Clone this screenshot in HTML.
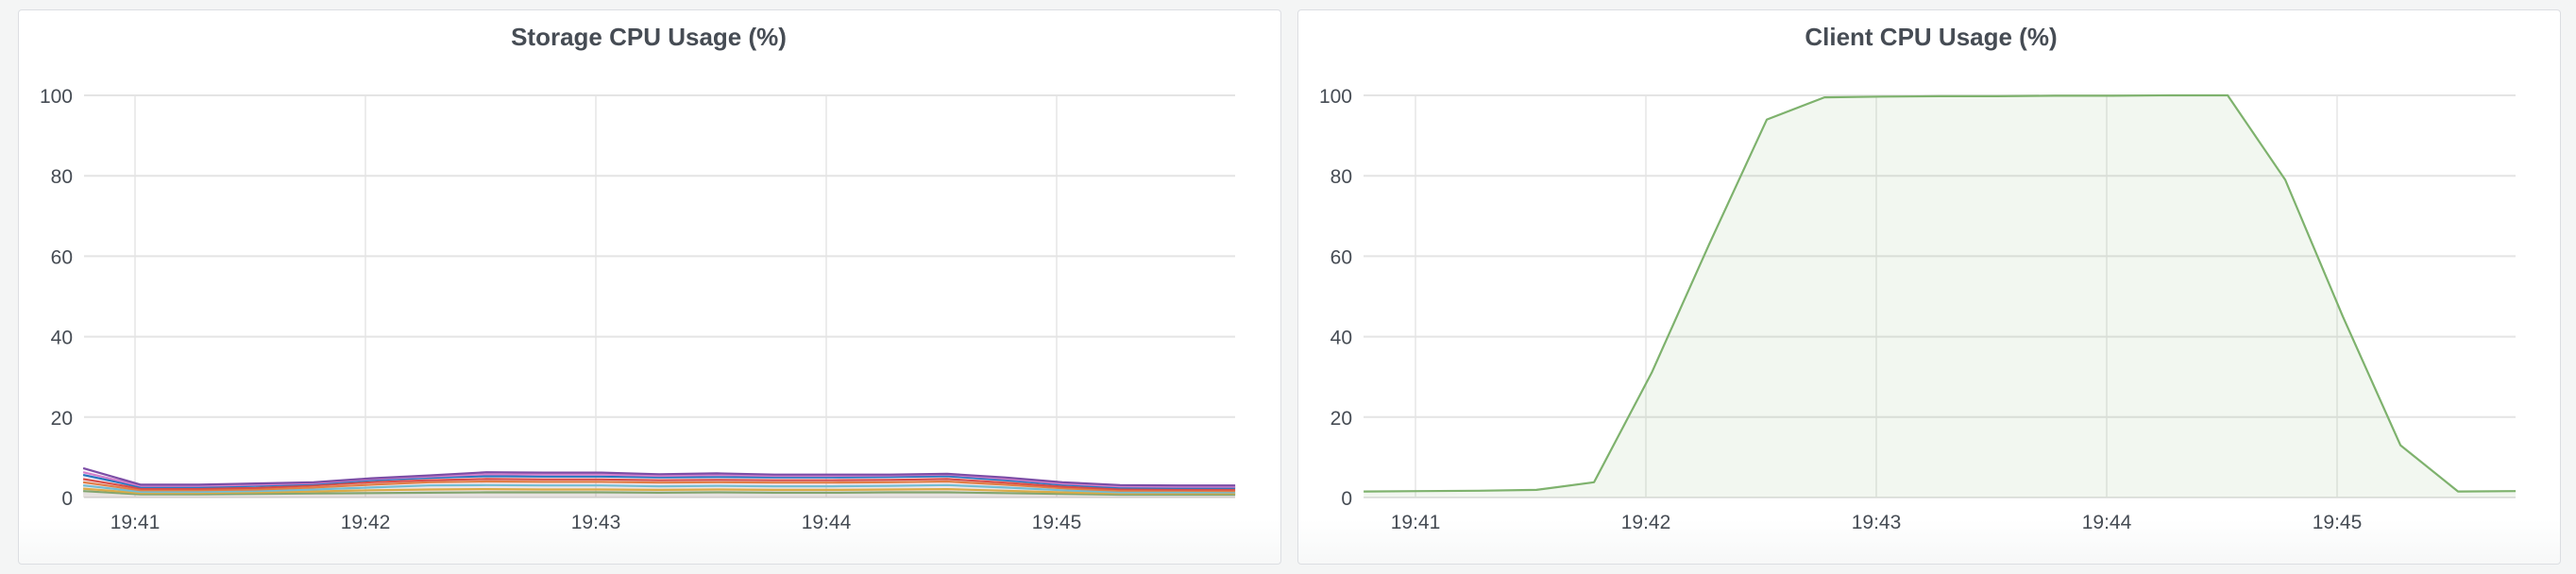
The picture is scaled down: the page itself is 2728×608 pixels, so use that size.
<!DOCTYPE html>
<html><head><meta charset="utf-8">
<style>
html,body{margin:0;padding:0;background:#f4f5f5;width:2728px;height:608px;overflow:hidden;font-family:"Liberation Sans",sans-serif;}
.panel{position:absolute;top:10px;height:588px;background:linear-gradient(#fff 0,#fff 92%,#f7f8f8 100%);border:1px solid #dcdee2;border-radius:4px;box-sizing:border-box;}
svg{position:absolute;left:0;top:0}
</style></head>
<body>
<div class="panel" style="left:19px;width:1338px"></div>
<div class="panel" style="left:1374px;width:1338px"></div>
<svg id="chart" width="2728" height="608"></svg>
<script>
const times = [46.5,61.5,76.5,91.5,106.5,121.5,136.5,151.5,166.5,181.5,196.5,211.5,226.5,241.5,256.5,271.5,286.5,301.5,316.5,331.5,346.5];
const tickLabels = ["19:41","19:42","19:43","19:44","19:45"];
const tickSeconds = [60,120,180,240,300];
const yTicks = [0,20,40,60,80,100];
const clientValues = [1.5,1.6,1.7,1.9,3.8,31,63,94,99.5,99.7,99.8,99.8,99.9,99.9,100,100,79,45,13,1.5,1.6];
const storGreen  = [1.6,0.8,0.8,0.9,1.0,1.1,1.2,1.3,1.3,1.3,1.2,1.3,1.2,1.2,1.3,1.3,1.1,0.9,0.7,0.7,0.7];
const storYellow = [2.2,1.1,1.1,1.3,1.5,1.8,2.0,2.1,2.0,2.0,1.9,2.0,1.9,1.9,2.0,2.1,1.7,1.3,1.0,1.0,1.0];
const storCyan   = [3.0,1.4,1.4,1.6,2.0,2.5,3.0,3.1,3.0,3.0,2.8,2.9,2.8,2.8,2.9,3.1,2.5,1.8,1.3,1.3,1.3];
const storOrange = [3.8,1.8,1.8,2.0,2.5,3.2,3.8,4.0,3.9,3.9,3.7,3.8,3.7,3.7,3.8,4.0,3.2,2.3,1.7,1.7,1.6];
const storRed    = [4.6,2.2,2.2,2.4,3.0,3.8,4.3,4.6,4.5,4.5,4.3,4.4,4.3,4.3,4.4,4.6,3.7,2.7,2.1,2.0,2.0];
const storBlue   = [5.6,2.6,2.6,2.9,3.4,4.3,4.9,5.3,5.2,5.2,5.0,5.1,5.0,5.0,5.1,5.3,4.3,3.2,2.5,2.4,2.4];
const storPink   = [6.3,2.9,2.9,3.2,3.6,4.6,5.2,5.8,5.7,5.7,5.4,5.6,5.4,5.4,5.5,5.7,4.7,3.5,2.8,2.7,2.7];
const storPurple = [7.3,3.2,3.2,3.5,3.8,4.8,5.5,6.3,6.2,6.2,5.8,6.0,5.7,5.7,5.7,5.9,5.0,3.8,3.1,3.0,3.0];
const storageSeries = [storGreen,storYellow,storCyan,storOrange,storRed,storBlue,storPink,storPurple];
const storageColors = ["#7EB26D","#EAB839","#6ED0E0","#EF843C","#E24D42","#1F78C1","#D683CE","#7C4DA6"];

const NS="http://www.w3.org/2000/svg";
const svg=document.getElementById('chart');
function mk(tag,attrs,parent){const e=document.createElementNS(NS,tag);for(const k in attrs)e.setAttribute(k,attrs[k]);(parent||svg).appendChild(e);return e;}

function drawPanel(cfg){
  const g=mk('g',{});
  
  
  const x=s=>cfg.x60+(s-60)*cfg.pps;
  const y=v=>cfg.y0-(v/100)*(cfg.y0-cfg.y100);
  const t=mk('text',{x:cfg.titleX,y:48,'text-anchor':'middle','font-size':26,'font-weight':'bold',fill:'#464c54'},g);
  t.textContent=cfg.title;
  
  
  tickSeconds.forEach((s,i)=>{
    const l=mk('line',{x1:x(s),x2:x(s),y1:cfg.y100,y2:cfg.y0,stroke:'#e6e6e6','stroke-width':1.5},g);
    
    
    const tx=mk('text',{x:x(s),y:560,'text-anchor':'middle','font-size':21,fill:'#464c54'},g);
    tx.textContent=tickLabels[i];
    
    
  });
  yTicks.forEach(v=>{
    const l=mk('line',{x1:cfg.left,x2:cfg.right,y1:y(v),y2:y(v),stroke:'#e4e4e4','stroke-width':2},g);
    
    
    const tx=mk('text',{x:cfg.left-12,y:y(v)+8,'text-anchor':'end','font-size':21,fill:'#464c54'},g);
    tx.textContent=String(v);
    
    
  });
  cfg.series.forEach((vals,si)=>{
    const pts=vals.map((v,i)=>x(times[i]).toFixed(1)+','+y(v).toFixed(1));
    const area=mk('path',{d:'M'+x(times[0])+','+y(0)+' L'+pts.join(' L')+' L'+x(times[times.length-1])+','+y(0)+' Z',fill:cfg.colors[si],'fill-opacity':cfg.fillOpacity,stroke:'none'},g);
    
    
    const p=mk('polyline',{points:pts.join(' '),fill:'none',stroke:cfg.colors[si],'stroke-width':2.2,'stroke-linejoin':'round'},g);
    
    
  });
}
drawPanel({name:'storage-cpu-chart',title:'Storage CPU Usage (%)',titleX:687,left:89,right:1308,x60:143,pps:244/60,y0:527,y100:101,series:storageSeries,colors:storageColors,fillOpacity:0.03});
drawPanel({name:'client-cpu-chart',title:'Client CPU Usage (%)',titleX:2045,left:1444,right:2664,x60:1499,pps:244/60,y0:527,y100:101,series:[clientValues],colors:['#7EB26D'],fillOpacity:0.1});
</script>
</body></html>
